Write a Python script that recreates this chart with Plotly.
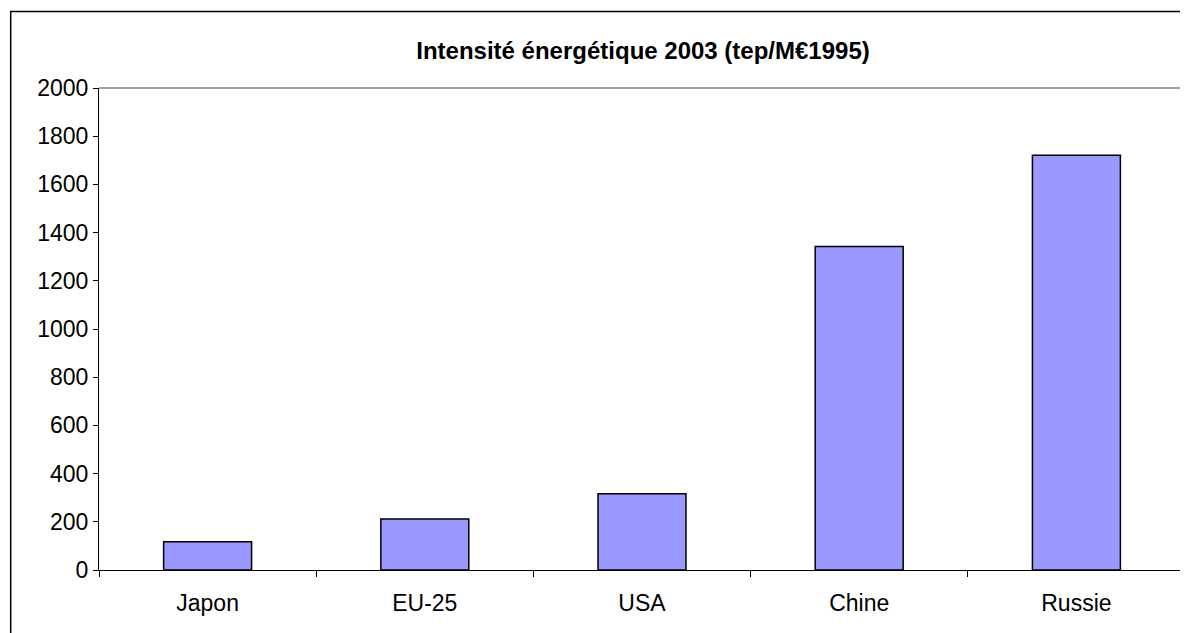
import plotly.graph_objects as go

categories = ["Japon", "EU-25", "USA", "Chine", "Russie"]
values = [117, 212, 316, 1342, 1721]
title_text = "Intensité énergétique 2003 (tep/M€1995)"
y_ticks = [0, 200, 400, 600, 800, 1000, 1200, 1400, 1600, 1800, 2000]

W, H = 1180, 625
fig = go.Figure()
fig.add_trace(go.Bar(
    x=categories, y=values, width=0.405,
    marker=dict(color="#9999FF", line=dict(color="black", width=1.5)),
))

fig.update_layout(
    width=W, height=H,
    paper_bgcolor="white", plot_bgcolor="white",
    margin=dict(l=91, r=3, t=80, b=63),
    showlegend=False,
    font=dict(family="Liberation Sans, Arial, sans-serif", color="black", size=23),
    title=dict(text="<b>" + title_text + "</b>", x=(643 - 8) / W, xanchor="center",
               y=1 - 43 / H, yanchor="middle", font=dict(size=24)),
    xaxis=dict(showline=True, linecolor="black", linewidth=1, mirror=False,
               ticks="outside", tickson="boundaries", ticklen=6, tickcolor="black",
               ticklabelstandoff=12, showgrid=False, zeroline=False),
    yaxis=dict(range=[0, 2000], tickvals=y_ticks, showline=True, linecolor="black",
               linewidth=1, ticks="outside", ticklen=5, tickcolor="black",
               showgrid=False, zeroline=False),
    bargap=0.595,
)
# plot-area top/right border (gray)
fig.add_shape(type="line", xref="paper", yref="paper", x0=0, x1=1, y0=1, y1=1,
              line=dict(color="#808080", width=1.5))
fig.add_shape(type="line", xref="paper", yref="paper", x0=1, x1=1, y0=0, y1=1,
              line=dict(color="#808080", width=1.5))
# outer chart frame
fig.add_shape(type="rect", xref="paper", yref="paper",
              x0=-0.0813, x1=1.2, y0=-0.3, y1=1.1587,
              line=dict(color="black", width=1.5), layer="below")

fig.write_html("out.html")
